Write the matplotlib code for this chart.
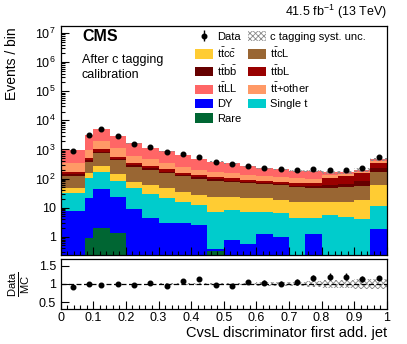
import numpy as np
import matplotlib
matplotlib.use("Agg")
import matplotlib.pyplot as plt
from matplotlib.patches import Patch
from matplotlib.ticker import FixedLocator, FuncFormatter, LogLocator, NullFormatter, MultipleLocator

plt.rcParams['font.family'] = ['Liberation Sans', 'DejaVu Sans']
plt.rcParams['mathtext.fontset'] = 'custom'
plt.rcParams['mathtext.rm'] = 'Liberation Sans'
plt.rcParams['mathtext.it'] = 'Liberation Sans:italic'
plt.rcParams['mathtext.bf'] = 'Liberation Sans:bold'
plt.rcParams['hatch.linewidth'] = 0.6
plt.rcParams['hatch.color'] = '#8a8a8a'

# ---------------- data ----------------
edges = [0.0, 0.075, 0.1, 0.15, 0.2, 0.25, 0.3, 0.35, 0.4, 0.45, 0.5,
         0.55, 0.6, 0.65, 0.7, 0.75, 0.8, 0.85, 0.9, 0.95, 1.0]

rare   = [0, 0.9, 2.0, 1.3, 0, 0, 0, 0, 0, 0.33, 0, 0, 0, 0, 0, 0, 0, 0, 0, 0]
dy     = [7.8, 21, 40.6, 21.3, 8.7, 4.3, 3.0, 2.9, 2.46, 0.04, 0.77, 0.56, 1.2, 0.95, 0, 1.2, 0, 0, 0, 1.8]
single_t = [23.2, 79, 128, 61, 37.3, 24.3, 18, 13.1, 9.84, 6.83, 7.53, 6.64, 6.0, 5.35, 4.3, 3.1, 5.6, 4.9, 4.0, 9.2]
ttcc   = [15, 50, 99, 59, 32, 31.4, 25, 19, 14.7, 16.5, 14.3, 13.8, 13.8, 12.7, 11.7, 11.7, 10.4, 11.1, 14, 49]
ttcL   = [76, 227, 500, 292, 176, 135, 112, 87, 71, 60.3, 51.4, 47, 42, 39, 34, 32, 32, 34, 37, 111]
ttbb   = [21, 55, 60, 23, 36, 29, 13, 10, 12, 10, 10, 6, 5, 7, 5, 7, 12, 15, 25, 59]
ttbL   = [28, 61, 170, 102, 43, 46, 36, 26, 22, 21, 17, 15, 14, 13, 17, 17, 45, 55, 70, 100]
ttother = [162, 461, 990, 590, 272, 187, 126, 96, 63, 56, 50, 43, 40, 32, 29, 24, 30, 22, 22, 70]
ttLL   = [617, 2145, 3160, 1750, 995, 693, 517, 391, 273, 209, 179, 128, 106, 100, 84, 84, 27, 20, 24, 60]

data = [881, 3130, 5000, 2900, 1540, 1180, 795, 695, 535, 370,
        316, 275, 235, 212, 195, 208, 195, 195, 224, 535]

syst_unc = [0.01, 0.01, 0.01, 0.01, 0.01, 0.012, 0.015, 0.018, 0.022, 0.03,
            0.035, 0.04, 0.045, 0.05, 0.06, 0.08, 0.1, 0.1, 0.15, 0.13]

components = [
    ("Rare", rare, "#006633"),
    ("DY", dy, "#0000ff"),
    ("Single t", single_t, "#00cccc"),
    (r"$\mathrm{t\bar{t}c\bar{c}}$", ttcc, "#ffcc33"),
    (r"$\mathrm{t\bar{t}cL}$", ttcL, "#996633"),
    (r"$\mathrm{t\bar{t}b\bar{b}}$", ttbb, "#660000"),
    (r"$\mathrm{t\bar{t}bL}$", ttbL, "#990000"),
    (r"$\mathrm{t\bar{t}}$+other", ttother, "#ff9966"),
    (r"$\mathrm{t\bar{t}LL}$", ttLL, "#ff6666"),
]

# ---------------- figure ----------------
W, H = 407, 344
fig = plt.figure(figsize=(W / 100, H / 100), dpi=100)

def fx(px):
    return px / W

def fy(py):
    return 1 - py / H

L, R = 60.7, 386.7
ax = fig.add_axes([fx(L), fy(255), fx(R - L), (255 - 26) / H])
rax = fig.add_axes([fx(L), fy(309), fx(R - L), (309 - 259) / H], sharex=ax)

edges_a = np.array(edges)
centers = 0.5 * (edges_a[1:] + edges_a[:-1])

bottom = np.full(len(data), 1e-3)
handles = {}
for name, vals, col in components:
    top = bottom + np.array(vals, dtype=float)
    ax.stairs(top, edges_a, baseline=bottom, fill=True, color=col, linewidth=0)
    handles[name] = Patch(facecolor=col, edgecolor='none')
    bottom = top
total = bottom

unc = np.array(syst_unc)
lo = total * (1 - unc)
hi = total * (1 + unc)
ax.stairs(hi, edges_a, baseline=lo, fill=True, facecolor='none', edgecolor='#8a8a8a',
          hatch='xxxxxx', linewidth=0)

data_a = np.array(data, dtype=float)
eb = ax.errorbar(centers, data_a, yerr=np.sqrt(data_a), fmt='o', color='black',
                 ms=3.3, elinewidth=1.0, capsize=0)

ax.set_yscale('log')
ax.set_xlim(0, 1)
ax.set_ylim(0.235, 1.75e7)

def logfmt(v, pos):
    e = int(round(np.log10(v)))
    if e == 0:
        return "1"
    if e == 1:
        return "10"
    return r"$10^{%d}$" % e

ax.yaxis.set_major_locator(LogLocator(base=10, numticks=20))
ax.yaxis.set_minor_locator(LogLocator(base=10, subs=np.arange(2, 10), numticks=50))
ax.yaxis.set_major_formatter(FuncFormatter(logfmt))
ax.yaxis.set_minor_formatter(NullFormatter())
ax.tick_params(axis='both', which='both', direction='in', top=False, right=False)
ax.tick_params(axis='both', which='major', length=6, width=0.8, labelsize=9)
ax.tick_params(axis='both', which='minor', length=3, width=0.8)
ax.tick_params(axis='x', labelbottom=False)
ax.xaxis.set_major_locator(MultipleLocator(0.1))
ax.xaxis.set_minor_locator(MultipleLocator(0.02))

fig.text(fx(12), fy(27), "Events / bin", fontsize=10, rotation=90, ha='center', va='top')

ax.text(0.065, 0.987, "CMS", transform=ax.transAxes, fontsize=11.5, fontweight='bold',
        va='top', ha='left')
ax.text(0.065, 0.878, "After c tagging\ncalibration", transform=ax.transAxes, fontsize=9,
        va='top', ha='left', linespacing=1.35)
fig.text(fx(386.7), fy(12), r"41.5 fb$^{-1}$ (13 TeV)", fontsize=9, ha='right', va='center')

# legends
syst_handle = Patch(facecolor='white', edgecolor='#8a8a8a', hatch='xxxxxx', linewidth=0)
col1 = [(eb, "Data"),
        (handles[r"$\mathrm{t\bar{t}c\bar{c}}$"], r"$\mathrm{t\bar{t}c\bar{c}}$"),
        (handles[r"$\mathrm{t\bar{t}b\bar{b}}$"], r"$\mathrm{t\bar{t}b\bar{b}}$"),
        (handles[r"$\mathrm{t\bar{t}LL}$"], r"$\mathrm{t\bar{t}LL}$"),
        (handles["DY"], "DY"),
        (handles["Rare"], "Rare")]
col2 = [(syst_handle, "c tagging syst. unc."),
        (handles[r"$\mathrm{t\bar{t}cL}$"], r"$\mathrm{t\bar{t}cL}$"),
        (handles[r"$\mathrm{t\bar{t}bL}$"], r"$\mathrm{t\bar{t}bL}$"),
        (handles[r"$\mathrm{t\bar{t}}$+other"], r"$\mathrm{t\bar{t}}$+other"),
        (handles["Single t"], "Single t")]

leg_kw = dict(frameon=False, fontsize=8, handlelength=1.6, handleheight=0.95,
              handletextpad=0.35, labelspacing=0.32, borderpad=0, borderaxespad=0)
leg1 = ax.legend([h for h, _ in col1], [l for _, l in col1], loc='upper left',
                 bbox_to_anchor=((195 - L) / (R - L), 1 - (31.5 - 26) / 229), **leg_kw)
ax.add_artist(leg1)
leg2 = ax.legend([h for h, _ in col2], [l for _, l in col2], loc='upper left',
                 bbox_to_anchor=((248.3 - L) / (R - L), 1 - (31.5 - 26) / 229), **leg_kw)

# ratio panel
ratio = data_a / total
rerr = np.sqrt(data_a) / total
rax.stairs(1 + unc, edges_a, baseline=1 - unc, fill=True, facecolor='none',
           edgecolor='#8a8a8a', hatch='xxxxxx', linewidth=0)
rax.axhline(1.0, color='black', ls=(0, (4, 2)), lw=0.9)
rax.errorbar(centers, ratio, yerr=rerr, fmt='o', color='black', ms=3.3,
             elinewidth=1.0, capsize=0)
rax.set_ylim(0.31, 1.69)
rax.set_xlim(0, 1)
rax.yaxis.set_major_locator(FixedLocator([0.5, 1.0, 1.5]))
rax.yaxis.set_major_formatter(FuncFormatter(lambda v, p: "%g" % v))
rax.xaxis.set_major_formatter(FuncFormatter(lambda v, p: "%g" % round(v, 2)))
rax.tick_params(axis='both', which='both', direction='in', top=False, right=False)
rax.tick_params(axis='both', which='major', length=6, width=0.8, labelsize=9)
rax.tick_params(axis='x', which='minor', length=3, width=0.8)
rax.tick_params(axis='x', pad=2)
fig.text(fx(19), fy(284), r"$\frac{\mathrm{Data}}{\mathrm{MC}}$", fontsize=11.5,
         rotation=90, ha='center', va='center')
rax.set_xlabel("CvsL discriminator first add. jet", fontsize=10.5, loc='right')
rax.xaxis.set_label_coords(1.0, -0.33)

for a in (ax, rax):
    for s in a.spines.values():
        s.set_linewidth(0.9)

fig.savefig("out.png", dpi=100)
